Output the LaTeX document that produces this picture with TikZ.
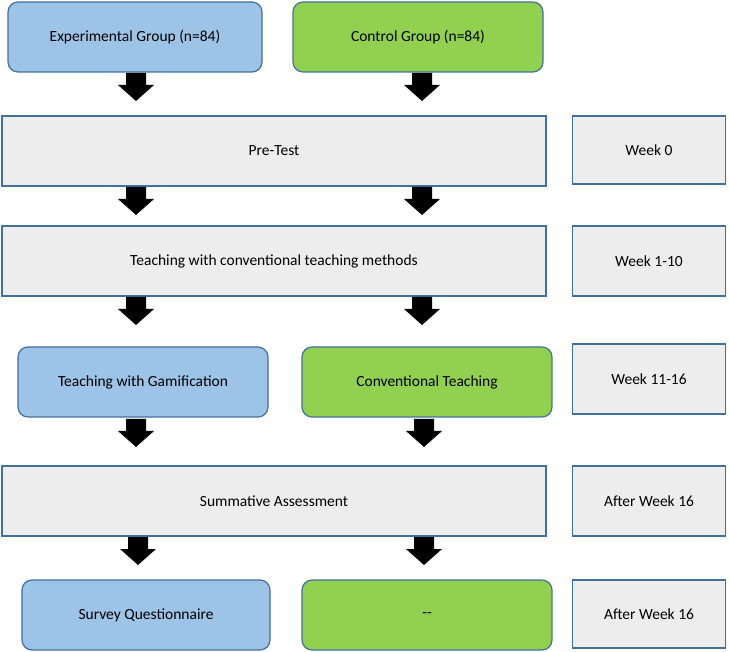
\documentclass[tikz,border=0pt]{standalone}
\usepackage{fontspec}
\setmainfont{Carlito}
\begin{document}
\begin{tikzpicture}[x=1pt,y=-1pt,
  base/.style={draw=bord,line width=1.2pt,font=\fontsize{15.5}{18}\selectfont,inner sep=0pt},
  grp/.style={base,rounded corners=10pt},
  exp/.style={grp,fill=blueF},
  ctl/.style={grp,fill=greenF,draw=greenB},
  gray/.style={base,fill=grayF}]
\definecolor{blueF}{HTML}{9DC3E6}
\definecolor{greenF}{HTML}{92D050}
\definecolor{greenB}{HTML}{41719C}
\definecolor{grayF}{HTML}{EDEDED}
\definecolor{bord}{HTML}{41719C}
\useasboundingbox (0,0) rectangle (729,652);
\node[exp,minimum width=254,minimum height=70] (e1) at (135,37) {Experimental Group (n=84)};
\node[ctl,minimum width=250,minimum height=70] (c1) at (418,37) {Control Group (n=84)};
\node[gray,minimum width=544,minimum height=70] (pre) at (274,151) {Pre-Test};
\node[gray,minimum width=153,minimum height=68] (w0) at (649,150) {Week 0};
\node[gray,minimum width=544,minimum height=70] (conv) at (274,261) {Teaching with conventional teaching methods};
\node[gray,minimum width=153,minimum height=70] (w1) at (649,261) {Week 1-10};
\node[exp,minimum width=250,minimum height=70] (e2) at (143,382) {Teaching with Gamification};
\node[ctl,minimum width=250,minimum height=70] (c2) at (427,382) {Conventional Teaching};
\node[gray,minimum width=153,minimum height=70] (w2) at (649,379) {Week 11-16};
\node[gray,minimum width=544,minimum height=70] (sum) at (274,501) {Summative Assessment};
\node[gray,minimum width=153,minimum height=70] (w3) at (649,501) {After Week 16};
\node[exp,minimum width=248,minimum height=70] (e3) at (146,615) {Survey Questionnaire};
\node[ctl,minimum width=250,minimum height=70] (c3) at (427,615) {{-}{-}};
\node[gray,minimum width=153,minimum height=68] (w4) at (649,614) {After Week 16};
\foreach \cx/\ty in {136/73, 422/73, 136/187, 422/187, 136/297, 422/297, 136/419, 424/419, 138/537, 424/537}{
  \fill[black] (\cx-10,\ty) -- (\cx+10,\ty) -- (\cx+10,\ty+12) -- (\cx+18,\ty+12) -- (\cx,\ty+28) -- (\cx-18,\ty+12) -- (\cx-10,\ty+12) -- cycle;
}
\end{tikzpicture}
\end{document}
